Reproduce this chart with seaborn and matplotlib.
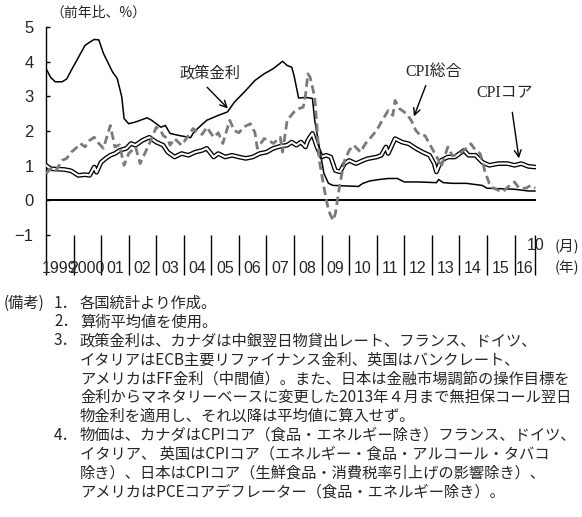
import matplotlib
matplotlib.use("Agg")
import matplotlib.pyplot as plt
import matplotlib.transforms as mtransforms
import seaborn as sns
import pandas as pd

# policy rate (G7 average, %)
rate_dates = ["1999-01", "1999-03", "1999-05", "1999-08", "1999-10", "1999-12",
              "2000-02", "2000-04", "2000-06", "2000-08", "2000-10", "2000-12",
              "2001-02", "2001-06", "2001-08", "2001-10", "2001-11", "2002-01",
              "2002-04", "2002-09", "2002-11", "2003-03", "2003-05", "2003-07",
              "2003-11", "2004-04", "2004-05", "2004-07", "2004-11", "2005-04",
              "2005-08", "2005-11", "2006-04", "2006-08", "2006-12", "2007-04",
              "2007-08", "2007-10", "2007-12", "2008-01", "2008-03", "2008-06",
              "2008-09", "2008-10", "2008-12", "2009-02", "2009-04", "2009-06",
              "2010-05", "2010-07", "2010-10", "2011-02", "2011-06", "2011-10",
              "2012-01", "2012-07", "2013-03", "2013-04", "2013-06", "2013-10",
              "2014-04", "2014-11", "2015-01", "2016-01", "2016-07", "2016-10"]
rate_vals = [3.80, 3.55, 3.42, 3.42, 3.50, 3.75,
             3.99, 4.23, 4.47, 4.56, 4.64, 4.63,
             4.24, 3.70, 3.52, 2.98, 2.36, 2.21,
             2.26, 2.38, 2.31, 2.11, 2.16, 1.93,
             1.87, 1.81, 1.93, 2.07, 2.31, 2.45,
             2.55, 2.83, 3.17, 3.46, 3.65, 3.80,
             4.01, 3.89, 3.84, 3.60, 2.95, 2.97,
             2.94, 2.31, 1.54, 0.78, 0.49, 0.43,
             0.40, 0.49, 0.56, 0.60, 0.63, 0.63,
             0.53, 0.53, 0.51, 0.60, 0.51, 0.49,
             0.49, 0.43, 0.35, 0.32, 0.27, 0.27]

# core CPI
core_dates = ["1999-01", "1999-03", "1999-06", "1999-09", "1999-12", "2000-03",
              "2000-06", "2000-08", "2000-10", "2000-11", "2001-01", "2001-03",
              "2001-05", "2001-07", "2001-09", "2001-12", "2002-02", "2002-04",
              "2002-07", "2002-10", "2003-01", "2003-04", "2003-06", "2003-09",
              "2003-12", "2004-03", "2004-06", "2004-09", "2004-11", "2005-02",
              "2005-04", "2005-07", "2005-10", "2006-01", "2006-04", "2006-07",
              "2006-10", "2007-01", "2007-04", "2007-07", "2007-10", "2007-12",
              "2008-02", "2008-04", "2008-06", "2008-07", "2008-09", "2008-11",
              "2009-01", "2009-03", "2009-05", "2009-07", "2009-09", "2009-11",
              "2010-01", "2010-04", "2010-07", "2010-09", "2011-01", "2011-03",
              "2011-05", "2011-06", "2011-09", "2011-12", "2012-03", "2012-06",
              "2012-09", "2012-12", "2013-02", "2013-03", "2013-05", "2013-08",
              "2013-11", "2014-03", "2014-05", "2014-08", "2014-11", "2015-02",
              "2015-06", "2015-10", "2016-01", "2016-04", "2016-07", "2016-10"]
core_vals = [1.01, 0.91, 0.90, 0.89, 0.85, 0.72,
             0.74, 0.72, 0.96, 0.81, 1.10, 1.21,
             1.30, 1.35, 1.44, 1.50, 1.64, 1.59,
             1.73, 1.82, 1.68, 1.59, 1.39, 1.25,
             1.35, 1.30, 1.39, 1.44, 1.50, 1.25,
             1.35, 1.25, 1.30, 1.25, 1.21, 1.25,
             1.35, 1.39, 1.50, 1.56, 1.59, 1.68,
             1.59, 1.68, 1.54, 1.73, 1.93, 1.54,
             1.25, 1.30, 1.25, 0.86, 0.82, 1.06,
             1.15, 1.06, 1.15, 1.20, 1.25, 1.30,
             1.54, 1.35, 1.78, 1.68, 1.63, 1.50,
             1.39, 1.30, 1.06, 0.82, 1.15, 1.25,
             1.25, 1.44, 1.30, 1.30, 1.10, 1.01,
             1.06, 1.06, 1.01, 1.06, 0.98, 0.96]

# headline CPI
cpi_dates = ["1999-01", "1999-03", "1999-05", "1999-08", "1999-10", "1999-12",
             "2000-02", "2000-04", "2000-06", "2000-08", "2000-10", "2000-12",
             "2001-02", "2001-05", "2001-07", "2001-09", "2001-11", "2002-01",
             "2002-04", "2002-06", "2002-08", "2002-11", "2003-01", "2003-03",
             "2003-04", "2003-06", "2003-07", "2003-09", "2003-12", "2004-03",
             "2004-05", "2004-07", "2004-09", "2004-11", "2005-02", "2005-04",
             "2005-06", "2005-09", "2005-11", "2006-01", "2006-03", "2006-06",
             "2006-08", "2006-09", "2006-12", "2007-02", "2007-04", "2007-07",
             "2007-08", "2007-10", "2008-01", "2008-03", "2008-05", "2008-06",
             "2008-07", "2008-08", "2008-10", "2008-11", "2008-12", "2009-02",
             "2009-04", "2009-06", "2009-07", "2009-09", "2009-11", "2010-01",
             "2010-03", "2010-06", "2010-08", "2010-10", "2011-01", "2011-03",
             "2011-06", "2011-08", "2011-09", "2011-11", "2012-02", "2012-04",
             "2012-06", "2012-08", "2012-10", "2012-12", "2013-02", "2013-04",
             "2013-05", "2013-07", "2013-08", "2013-10", "2014-01", "2014-04",
             "2014-06", "2014-08", "2014-10", "2014-11", "2014-12", "2015-02",
             "2015-03", "2015-06", "2015-08", "2015-10", "2016-01", "2016-03",
             "2016-06", "2016-08", "2016-10"]
cpi_vals = [0.77, 0.91, 0.82, 1.15, 1.21, 1.39,
            1.50, 1.64, 1.54, 1.73, 1.82, 1.64,
            1.50, 2.16, 1.54, 1.60, 1.01, 1.35,
            1.54, 1.06, 1.35, 1.78, 2.11, 2.01,
            1.87, 1.78, 1.59, 1.78, 1.59, 1.87,
            2.07, 1.97, 1.90, 2.11, 1.82, 1.95,
            1.64, 2.31, 2.01, 1.95, 2.11, 2.21,
            1.95, 1.50, 1.78, 1.73, 1.64, 1.82,
            1.39, 2.31, 2.55, 2.64, 2.69, 3.03,
            3.65, 3.55, 2.98, 2.11, 1.15, 0.38,
            -0.29, -0.58, -0.38, 0.49, 1.15, 1.44,
            1.59, 1.39, 1.63, 1.78, 2.02, 2.26,
            2.59, 2.45, 2.88, 2.64, 2.50, 2.31,
            2.02, 1.87, 1.87, 1.63, 1.39, 1.15,
            0.96, 1.35, 1.54, 1.28, 1.35, 1.50,
            1.63, 1.45, 1.35, 1.15, 0.86, 0.49,
            0.38, 0.29, 0.25, 0.38, 0.53, 0.35,
            0.35, 0.43, 0.35]

year_labels = ["1999", "2000", "01", "02", "03", "04", "05", "06", "07", "08",
               "09", "10", "11", "12", "13", "14", "15", "16"]

notes = [
    ("(備考)", "1．", "各国統計より作成。"),
    ("", "2．", "算術平均値を使用。"),
    ("", "3．", "政策金利は、カナダは中銀翌日物貸出レート、フランス、ドイツ、"),
    ("", "", "イタリアはECB主要リファイナンス金利、英国はバンクレート、"),
    ("", "", "アメリカはFF金利（中間値）。また、日本は金融市場調節の操作目標を"),
    ("", "", "金利からマネタリーベースに変更した2013年４月まで無担保コール翌日"),
    ("", "", "物金利を適用し、それ以降は平均値に算入せず。"),
    ("", "4．", "物価は、カナダはCPIコア（食品・エネルギー除き）フランス、ドイツ、"),
    ("", "", "イタリア、 英国はCPIコア（エネルギー・食品・アルコール・タバコ"),
    ("", "", "除き）、日本はCPIコア（生鮮食品・消費税率引上げの影響除き）、"),
    ("", "", "アメリカはPCEコアデフレーター（食品・エネルギー除き）。"),
]


def to_frame(dates, vals):
    d = pd.to_datetime(dates, format="%Y-%m")
    return pd.DataFrame({"t": d.year + (d.month - 1) / 12.0, "v": vals})


sns.set_theme(style="white")
jp = ["Noto Sans CJK JP", "DejaVu Sans"]
plt.rcParams["font.family"] = jp
num_font = ["Liberation Sans Narrow", "Liberation Sans", "DejaVu Sans"]
cpi_font = ["Liberation Serif", "Noto Sans CJK JP"]

fig = plt.figure(figsize=(5.82, 5.17), dpi=100)
ax = fig.add_axes([46 / 582, (517 - 235) / 517, 490 / 582, 208 / 517])

rate = to_frame(rate_dates, rate_vals)
core = to_frame(core_dates, core_vals)
cpi = to_frame(cpi_dates, cpi_vals)

ax.axhline(0, color="black", lw=1.4, zorder=1)
# core CPI drawn as a hollow double line
sns.lineplot(data=core, x="t", y="v", ax=ax, color="black", lw=3.4, zorder=2)
sns.lineplot(data=core, x="t", y="v", ax=ax, color="white", lw=1.5, zorder=3)
sns.lineplot(data=rate, x="t", y="v", ax=ax, color="black", lw=1.1, zorder=4)
sns.lineplot(data=cpi, x="t", y="v", ax=ax, color="#7a7a7a", lw=2.0,
             linestyle=(0, (3.0, 1.6)), zorder=5)

ax.set_xlim(1999.0, 2016.78)
ax.set_ylim(-1, 5)
ax.set_xlabel("")
ax.set_ylabel("")
for s in ["top", "right", "bottom"]:
    ax.spines[s].set_visible(False)
ax.spines["left"].set_color("black")
ax.spines["left"].set_linewidth(1.0)

# year separators drop below the plot
ax.set_xticks(list(range(1999, 2017)) + [2016.75])
ax.set_xticklabels([])
ax.tick_params(axis="x", direction="out", length=29, width=1.0, color="black",
               bottom=True)
ax.set_yticks(range(-1, 6))
ax.set_yticklabels([str(v).replace("-", "\u2212") for v in range(-1, 6)],
                   family=num_font, fontsize=12)
ax.tick_params(axis="y", direction="in", length=3, width=1.0, color="black",
               left=True, pad=9)

trans = mtransforms.blended_transform_factory(ax.transData, ax.transAxes)
for i, lab in enumerate(year_labels):
    xc = 1999 + i + 0.5 if i < len(year_labels) - 1 else 2016.375
    ax.text(xc, -0.16, lab, transform=trans, ha="center", va="center",
            family=num_font, fontsize=11.5, clip_on=False)
ax.text(2016.75, -0.05, "10", transform=trans, ha="center", va="center",
        family=num_font, fontsize=11.5, clip_on=False)
ax.text(2017.9, -0.05, "(月)", transform=trans, ha="center", va="center",
        fontsize=10.5, clip_on=False)
ax.text(2017.9, -0.16, "(年)", transform=trans, ha="center", va="center",
        fontsize=10.5, clip_on=False)

# series labels
ax.text(2004.95, 3.66, "政策金利", ha="center", va="center", fontsize=11)
ax.annotate("", xy=(2005.6, 2.65), xytext=(2004.85, 3.26),
            arrowprops=dict(arrowstyle="->", color="black", lw=1.0,
                            shrinkA=0, shrinkB=0, mutation_scale=12))
ax.text(2013.05, 3.69, "CPI総合", ha="center", va="center", fontsize=11.5,
        family=cpi_font)
ax.annotate("", xy=(2012.35, 2.42), xytext=(2012.78, 3.31),
            arrowprops=dict(arrowstyle="->", color="black", lw=1.0,
                            shrinkA=0, shrinkB=0, mutation_scale=12))
ax.text(2015.65, 3.08, "CPIコア", ha="center", va="center", fontsize=11.5,
        family=cpi_font)
ax.annotate("", xy=(2016.16, 1.21), xytext=(2015.92, 2.54),
            arrowprops=dict(arrowstyle="->", color="black", lw=1.0,
                            shrinkA=0, shrinkB=0, mutation_scale=12))

fig.text(50 / 582, 1 - 13 / 517, "（前年比、%）", ha="left", va="center",
         fontsize=10)

# notes under the chart
for i, (head, num, body) in enumerate(notes):
    y = 1 - (303 + 18.9 * i) / 517
    if head:
        fig.text(4 / 582, y, head, ha="left", va="center", fontsize=11)
    if num:
        fig.text(54 / 582, y, num, ha="left", va="center", fontsize=11)
    fig.text(80 / 582, y, body, ha="left", va="center", fontsize=11)

fig.savefig("out.png", dpi=100, facecolor="white")
